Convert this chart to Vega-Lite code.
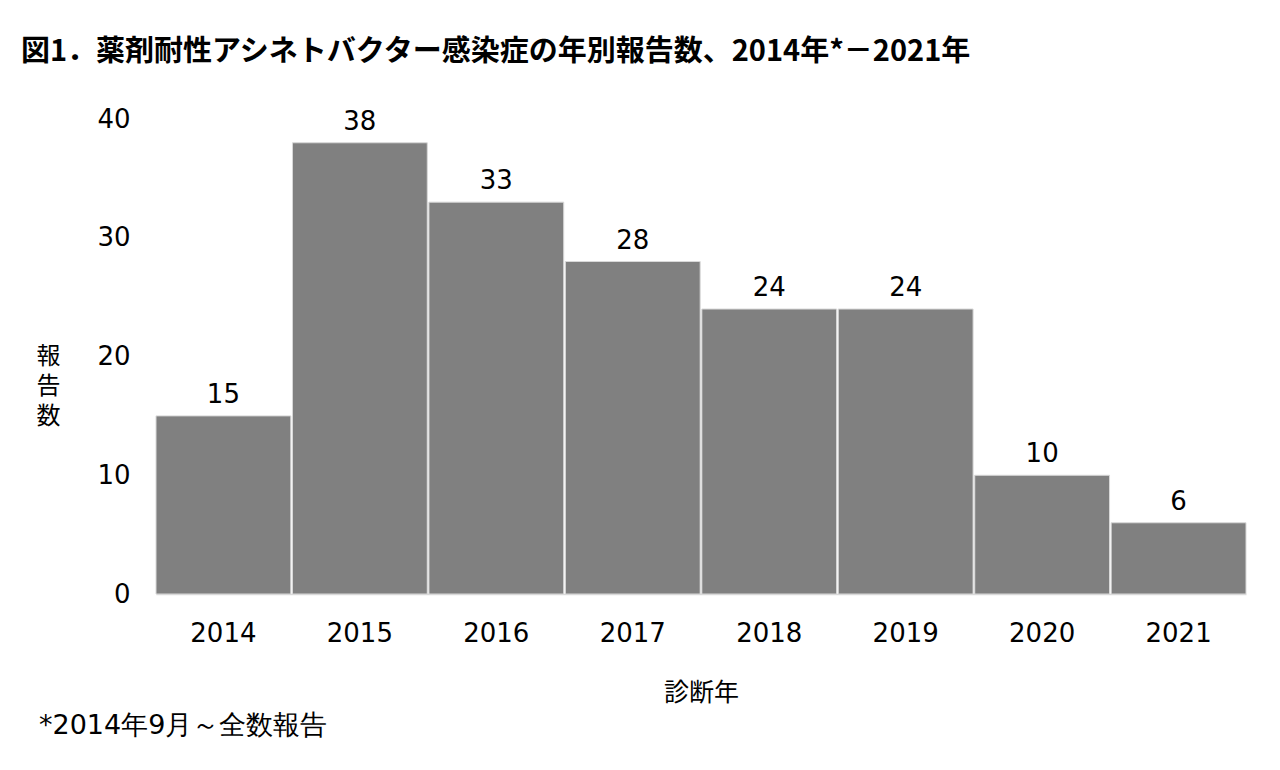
{
  "$schema": "https://vega.github.io/schema/vega-lite/v6.json",
  "padding": {"left": 20, "top": 38, "right": 5, "bottom": 5},
  "background": "white",
  "title": {
    "text": "図1．薬剤耐性アシネトバクター感染症の年別報告数、2014年*－2021年",
    "anchor": "start",
    "frame": "bounds",
    "dx": -15,
    "fontSize": 29,
    "fontWeight": "bold",
    "font": "Noto Sans CJK JP",
    "color": "black",
    "offset": 39
  },
  "config": {
    "view": {"stroke": null},
    "concat": {"spacing": 6},
    "font": "DejaVu Sans"
  },
  "vconcat": [
    {
      "width": 1090,
      "height": 475,
      "data": {
        "values": [
          {"year": "2014", "count": 15},
          {"year": "2015", "count": 38},
          {"year": "2016", "count": 33},
          {"year": "2017", "count": 28},
          {"year": "2018", "count": 24},
          {"year": "2019", "count": 24},
          {"year": "2020", "count": 10},
          {"year": "2021", "count": 6}
        ]
      },
      "encoding": {
        "x": {
          "field": "year",
          "type": "ordinal",
          "scale": {"paddingInner": 0.012, "paddingOuter": 0},
          "axis": {
            "title": "診断年",
            "titleFont": "Noto Sans CJK JP",
            "titleFontSize": 25,
            "titleFontWeight": "normal",
            "titleColor": "black",
            "titlePadding": 34,
            "labelAngle": 0,
            "labelFont": "DejaVu Sans",
            "labelFontSize": 26,
            "labelColor": "black",
            "labelPadding": 26,
            "ticks": false,
            "domainColor": "#d9d9d9",
            "domainWidth": 1.5
          }
        },
        "y": {
          "field": "count",
          "type": "quantitative",
          "scale": {"domain": [0, 40]},
          "axis": {
            "title": ["報", "告", "数"],
            "titleAngle": 0,
            "titleFont": "Noto Sans CJK JP",
            "titleFontSize": 24,
            "titleFontWeight": "normal",
            "titleColor": "black",
            "titleLineHeight": 30,
            "titlePadding": -11,
            "titleBaseline": "middle",
            "values": [0, 10, 20, 30, 40],
            "labelFont": "DejaVu Sans",
            "labelFontSize": 26,
            "labelColor": "black",
            "labelPadding": 26,
            "ticks": false,
            "domain": false,
            "grid": false
          }
        }
      },
      "layer": [
        {
          "mark": {"type": "bar", "color": "#808080", "stroke": "#d9d9d9", "strokeWidth": 1}
        },
        {
          "mark": {"type": "text", "baseline": "bottom", "dy": -8, "font": "DejaVu Sans", "fontSize": 26, "color": "black"},
          "encoding": {"text": {"field": "count", "type": "quantitative"}}
        }
      ]
    },
    {
      "width": 1090,
      "height": 1,
      "data": {"values": [{"note": ""}]},
      "mark": {"type": "text"},
      "encoding": {"text": {"field": "note", "type": "nominal"}},
      "title": {
        "text": "*2014年9月～全数報告",
        "anchor": "start",
        "frame": "group",
        "dx": -117,
        "fontSize": 27,
        "fontWeight": "normal",
        "font": "DejaVu Sans",
        "color": "black",
        "offset": 0
      }
    }
  ]
}
